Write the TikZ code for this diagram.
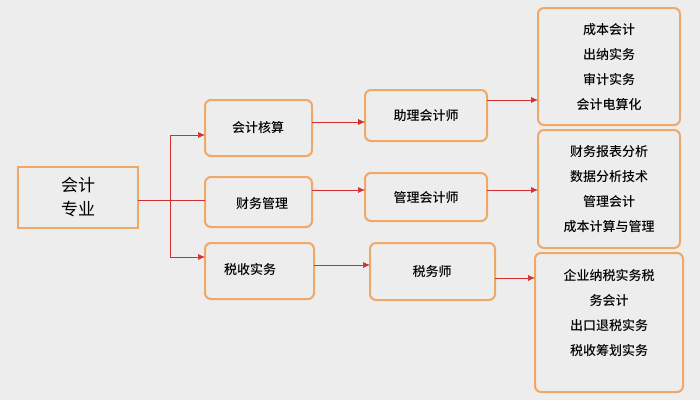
\documentclass[tikz,border=0pt]{standalone}
\usepackage{fontspec}
\setmainfont{Noto Sans CJK SC}[BoldFont={Noto Sans CJK SC Medium}]
\usetikzlibrary{arrows.meta}
\definecolor{bg}{HTML}{EDEDED}
\definecolor{ob}{HTML}{F0A868}
\definecolor{ln}{HTML}{D03030}
\begin{document}
\begin{tikzpicture}[x=1pt,y=-1pt,
  box/.style={draw=ob,line width=2pt,rounded corners=6pt,fill=bg},
  conn/.style={draw=ln,line width=0.7pt},
  arr/.style={conn,-{Latex[length=7pt,width=6pt]}},
  lbl/.style={font=\fontsize{13}{25}\selectfont\bfseries,align=center}]
\fill[bg] (0,0) rectangle (700,400);
\useasboundingbox (0,0) rectangle (700,400);
\draw[draw=ob,line width=2.2pt,fill=bg] (18,167) rectangle (138,228);
\node[lbl,font=\fontsize{17}{24}\selectfont] (major) at (78,197.5) {会计\\专业};
\coordinate (mR) at (138,200);
\path[box] (205,100) rectangle (312,156); \node[lbl] (a1) at (258,128) {会计核算};
\path[box] (205,177) rectangle (312,227); \node[lbl] (a2) at (262,204) {财务管理};
\path[box] (205,243) rectangle (314,299); \node[lbl] (a3) at (250,270) {税收实务};
\path[box] (365,90) rectangle (487,141); \node[lbl] (b1) at (426,116) {助理会计师};
\path[box] (365,173) rectangle (487,221); \node[lbl] (b2) at (426,198) {管理会计师};
\path[box] (370,243) rectangle (495,300); \node[lbl] (b3) at (432,272) {税务师};
\path[box] (538,8) rectangle (680,125);
\node[lbl] (c1) at (609,67) {成本会计\\出纳实务\\审计实务\\会计电算化};
\path[box] (538,130) rectangle (680,248);
\node[lbl] (c2) at (609,189) {财务报表分析\\数据分析技术\\管理会计\\成本计算与管理};
\path[box] (535,253) rectangle (683,392);
\node[lbl] (c3) at (609,313) {企业纳税实务税\\务会计\\出口退税实务\\税收筹划实务};
% connectors
\draw[conn] (mR) -- (205,200);
\draw[arr] (170,200) |- (205,135);
\draw[arr] (170,200) |- (205,257);
\draw[arr,line width=0.4pt] (312,122) -- (365,122);
\draw[arr] (312,190) -- (365,190);
\draw[arr] (314,265) -- (370,265);
\draw[arr] (487,100) -- (538,100);
\draw[arr] (487,190) -- (538,190);
\draw[arr] (495,278) -- (535,278);
\end{tikzpicture}
\end{document}
